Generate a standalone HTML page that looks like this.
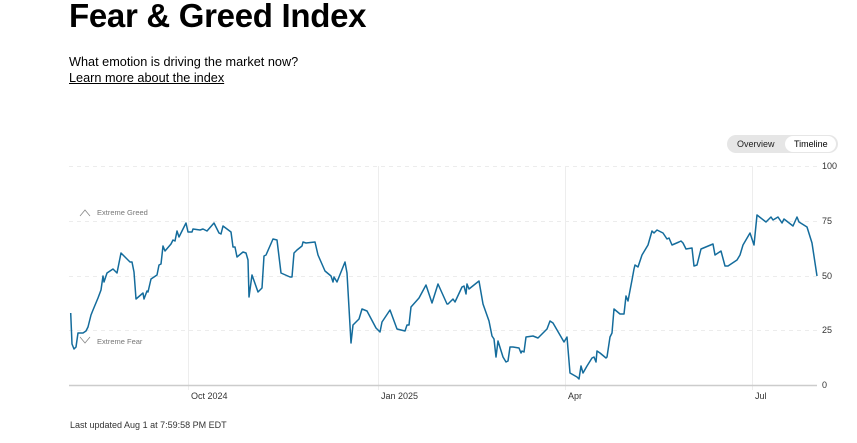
<!DOCTYPE html>
<html><head><meta charset="utf-8"><style>
body{margin:0;width:857px;height:443px;background:#fff;font-family:"Liberation Sans",Arial,sans-serif;color:#000;position:relative;overflow:hidden}
h1{position:absolute;left:69px;top:-3px;margin:0;font-size:33px;font-weight:bold;letter-spacing:-0.3px}
.sub{position:absolute;left:69px;top:55px;font-size:12.7px}
.lnk{position:absolute;left:69px;top:71px;font-size:12.7px;text-decoration:underline}
.tog{position:absolute;left:727px;top:135px;width:111px;height:18px;border-radius:9px;background:#e6e6e6;font-size:9px}
.tog span{position:absolute;top:4px}
.tog .on{position:absolute;left:58px;top:1px;width:51px;height:16px;background:#fff;border-radius:8px}
.foot{position:absolute;left:70px;top:420px;font-size:9px;color:#333}
</style></head><body>
<h1>Fear &amp; Greed Index</h1>
<div class="sub">What emotion is driving the market now?</div>
<div class="lnk">Learn more about the index</div>
<div class="tog"><div class="on"></div><span style="left:10px;color:#222">Overview</span><span style="left:67px;color:#000">Timeline</span></div>
<svg width="857" height="443" style="position:absolute;left:0;top:0" font-family="Liberation Sans, Arial, sans-serif">
<g stroke="#ececec" stroke-width="1" stroke-dasharray="4,4">
<line x1="69" x2="817" y1="166.5" y2="166.5"/><line x1="69" x2="817" y1="221.5" y2="221.5"/><line x1="69" x2="817" y1="276.5" y2="276.5"/><line x1="69" x2="817" y1="330.5" y2="330.5"/></g>
<g stroke="#ededed"><line x1="188.5" x2="188.5" y1="166" y2="390"/><line x1="378.5" x2="378.5" y1="166" y2="390"/><line x1="565.5" x2="565.5" y1="166" y2="390"/><line x1="752.5" x2="752.5" y1="166" y2="390"/></g>
<line x1="69" x2="817" y1="385.5" y2="385.5" stroke="#ccc" stroke-width="1.5"/>
<g font-size="9" fill="#333"><text x="822" y="169">100</text><text x="822" y="224">75</text><text x="822" y="279">50</text><text x="822" y="333">25</text><text x="822" y="388">0</text>
<text x="191" y="399">Oct 2024</text><text x="381" y="399">Jan 2025</text><text x="568" y="399">Apr</text><text x="755" y="399">Jul</text></g>
<g font-size="7.5" fill="#777"><text x="97" y="215">Extreme Greed</text><text x="97" y="344">Extreme Fear</text></g>
<polyline points="80,216 85,210 90,216" fill="none" stroke="#888" stroke-width="0.8"/>
<polyline points="80,337 85,343 90,337" fill="none" stroke="#888" stroke-width="0.8"/>
<polyline fill="none" stroke="#146c9c" stroke-width="1.5" stroke-linejoin="round" points="70.7,313 72,344 74,349 76,347 78,333 83,333 86,331 88,327 91,315 93,310 98,298 101,290 103,276 104,282 107,273 113,269 117,273 121,253 130,262 132,262 134,272 136,299 143,293 144,299 147,291 148,292 151,279 157,275 159,265 161,264 163,246 165,251 171,244 173,240 175,241 177,231 179,237 186,223 188,232 192,232 193,229 200,230 203,229 207,231 214,223 219,233 221,234 223,226 231,232 233,247 235,247 237,257 243,252 246,253 248,260 249,297 252,275 258,292 262,288 264,256 266,255 273,239 277,240 281,273 290,277 292,277 294,253 297,250 302,246 303,242 306,243 315,242 318,255 325,271 331,276 333,282 334,277 337,282 345,262 347,273 351,343 353,325 359,319 362,309 367,311 376,328 380,332 382,322 390,310 397,329 405,331 407,325 409,325 411,307 419,298 426,285 432,303 438,284 447,304 448,304 453,299 455,302 462,287 464,286 466,294 467,284 469,289 479,281 483,304 489,321 492,336 494,339 496,357 498,341 503,357 506,362 508,361 510,347 513,347 519,348 521,353 522,351 524,352 526,337 533,336 538,338 547,329 550,321 553,323 564,342 567,337 570,373 577,377 579,379 581,366 583,373 587,366 592,358 594,357 596,362 597,351 600,353 606,358 607,357 610,337 612,333 614,309 620,314 624,314 626,296 628,301 632,280 634,269 635,265 638,267 642,255 648,245 652,231 654,233 657,230 663,233 667,239 669,238 672,245 679,242 681,241 683,243 686,249 692,248 694,266 697,265 701,249 713,244 715,255 721,251 725,266 728,266 737,260 740,255 743,245 750,233 754,245 757,215 766,222 771,217 773,220 778,217 782,223 784,219 793,226 797,217 799,222 807,227 812,243 817,276"/>
</svg>
<div class="foot">Last updated Aug 1 at 7:59:58 PM EDT</div>
</body></html>
